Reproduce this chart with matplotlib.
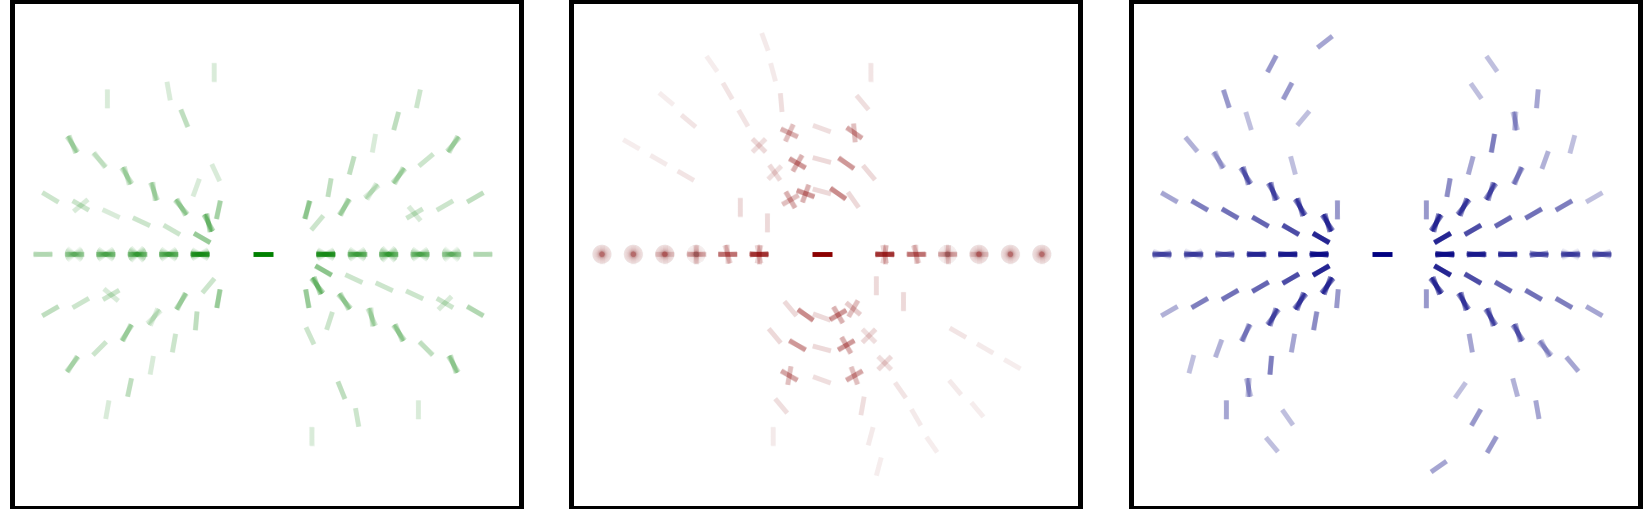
import numpy as np
import matplotlib
matplotlib.use("Agg")
import matplotlib.pyplot as plt
from matplotlib.collections import LineCollection
from matplotlib.colors import to_rgb

# =========================
# Dados lidos da figura
# cada linha: (theta da posicao [graus], raio, orientacao [graus], alpha, espalhamento [graus])
# =========================
green_nodes = [
    (0, 2, 0, .8, 4), (0, 3, 0, .5, 3), (0, 4, 0, .45, 3), (0, 5, 0, .4, 3), (0, 6, 0, .3, 3), (0, 7, 0, .3, 4),
    (180, 2, 0, .8, 4), (180, 3, 0, .5, 3), (180, 4, 0, .45, 3), (180, 5, 0, .4, 3), (180, 6, 0, .3, 3), (180, 7, 0, .3, 4),
    (15, 5, 30, .2, 2), (15, 6, 30, .2, 2), (15, 7, 30, .25, 2),
    (30, 2, 50, .2, 2), (30, 3, 60, .4, 6), (30, 4, 50, .3, 10), (30, 5, 55, .4, 8), (30, 6, 40, .2, 2), (30, 7, 55, .4, 8),
    (45, 2, 75, .45, 4), (45, 3, 80, .25, 2), (45, 4, 75, .25, 2), (45, 5, 80, .15, 2), (45, 6, 75, .25, 2), (45, 7, 78, .2, 2),
    (165, 2, 150, .4, 2), (165, 3, 150, .2, 2), (165, 4, 155, .2, 2), (165, 5, 155, .15, 2), (165, 6, 150, .2, 2), (165, 7, 149, .2, 2),
    (150, 2, 110, .6, 10), (150, 3, 125, .45, 8), (150, 4, 105, .4, 8), (150, 5, 115, .4, 10), (150, 6, 130, .25, 5), (150, 7, 118, .4, 8),
    (135, 2, 78, .35, 3), (135, 3, 70, .15, 2), (135, 7, 90, .15, 2),
    (120, 3, 115, .15, 2), (120, 5, 112, .25, 3), (120, 6, 100, .15, 2),
    (105, 6, 90, .15, 2),
    (195, 5, 30, .2, 2), (195, 6, 30, .2, 2), (195, 7, 30, .25, 2),
    (210, 2, 50, .2, 2), (210, 3, 60, .4, 5), (210, 4, 55, .3, 12), (210, 5, 60, .4, 5), (210, 6, 45, .2, 2), (210, 7, 55, .35, 5),
    (225, 2, 80, .4, 3), (225, 3, 85, .25, 2), (225, 4, 80, .2, 2), (225, 5, 80, .15, 2), (225, 6, 78, .25, 2), (225, 7, 80, .15, 2),
    (345, 2, 150, .45, 3), (345, 3, 155, .2, 2), (345, 4, 155, .2, 2), (345, 5, 155, .2, 2), (345, 6, 150, .2, 2), (345, 7, 150, .3, 3),
    (330, 2, 120, .6, 10), (330, 3, 125, .45, 8), (330, 4, 105, .4, 10), (330, 5, 120, .45, 8), (330, 6, 135, .25, 4), (330, 7, 115, .45, 8),
    (315, 2, 100, .4, 3), (315, 3, 72, .2, 2), (315, 7, 90, .15, 2),
    (300, 3, 115, .2, 2), (300, 5, 112, .25, 2), (300, 6, 100, .2, 2),
    (285, 6, 90, .15, 2),
]
green_extra = [
    (0, 2, 0, .5, 30), (0, 3, 0, .5, 35), (0, 4, 0, .6, 45), (0, 5, 0, .5, 35), (0, 6, 0, .45, 40),
    (180, 2, 0, .5, 30), (180, 3, 0, .5, 35), (180, 4, 0, .6, 45), (180, 5, 0, .5, 35), (180, 6, 0, .45, 40),
    (15, 5, 130, .15, 2), (165, 6, 40, .15, 2), (195, 5, 140, .15, 2), (345, 6, 45, .15, 2),
]

red_nodes = [
    (0, 2, 0, .8, 4), (0, 3, 0, .55, 3), (0, 4, 0, .3, 4), (0, 5, 0, .15, 3),
    (180, 2, 0, .8, 4), (180, 3, 0, .55, 3), (180, 4, 0, .3, 4), (180, 5, 0, .15, 3),
    (105, 2, 160, .4, 4), (105, 3, 150, .4, 4), (105, 4, 155, .3, 4), (105, 5, 95, .12, 2), (105, 6, 105, .08, 2), (105, 7, 110, .08, 2),
    (120, 2, 120, .3, 4), (120, 3, 125, .15, 3), (120, 4, 135, .15, 3), (120, 5, 120, .1, 2), (120, 6, 120, .1, 2), (120, 7, 125, .07, 2),
    (135, 6, 140, .1, 2), (135, 7, 140, .07, 2),
    (150, 2, 90, .15, 2), (150, 3, 90, .15, 2), (150, 5, 150, .1, 2), (150, 6, 150, .08, 2), (150, 7, 150, .07, 2),
    (90, 2, 165, .15, 2), (90, 3, 165, .15, 2), (90, 4, 160, .12, 2),
    (75, 2, 145, .45, 4), (75, 3, 145, .4, 4), (75, 4, 145, .35, 4), (75, 5, 130, .12, 2), (75, 6, 90, .1, 2),
    (60, 2, 125, .15, 2), (60, 3, 130, .15, 2),
    (255, 2, 145, .45, 4), (255, 3, 150, .4, 4), (255, 4, 150, .35, 4), (255, 5, 130, .12, 2), (255, 6, 90, .08, 2),
    (240, 2, 130, .15, 2), (240, 3, 130, .15, 2),
    (270, 2, 160, .15, 2), (270, 3, 165, .15, 2), (270, 4, 160, .12, 2),
    (285, 2, 30, .4, 4), (285, 3, 30, .4, 4), (285, 4, 30, .35, 4), (285, 5, 80, .12, 2), (285, 6, 75, .08, 2), (285, 7, 75, .07, 2),
    (300, 2, 60, .25, 3), (300, 3, 45, .15, 3), (300, 4, 45, .15, 3), (300, 5, 125, .1, 2), (300, 6, 120, .08, 2), (300, 7, 125, .07, 2),
    (315, 6, 130, .08, 2), (315, 7, 130, .07, 2),
    (330, 2, 90, .15, 2), (330, 3, 90, .15, 2), (330, 5, 150, .1, 2), (330, 6, 150, .08, 2), (330, 7, 150, .07, 2),
]
red_extra = [
    (0, 2, 90, .4, 12), (0, 3, 100, .35, 8), (0, 4, 90, .2, 6), (0, 4, 0, .35, 90),
    (0, 5, 0, .55, 90), (0, 6, 0, .55, 90), (0, 7, 0, .5, 90),
    (180, 2, 90, .4, 12), (180, 3, 100, .35, 8), (180, 4, 90, .2, 6), (180, 4, 0, .35, 90),
    (180, 5, 0, .55, 90), (180, 6, 0, .55, 90), (180, 7, 0, .5, 90),
    (105, 2, 70, .3, 4), (105, 3, 60, .3, 4), (105, 4, 65, .25, 4),
    (120, 2, 30, .25, 4), (120, 3, 45, .12, 3), (120, 4, 45, .12, 3),
    (75, 4, 95, .25, 3), (255, 4, 80, .25, 3),
    (285, 2, 120, .3, 4), (285, 3, 120, .3, 4), (285, 4, 110, .25, 4),
    (300, 2, 140, .2, 3), (300, 3, 135, .12, 3), (300, 4, 135, .12, 3),
]

navy_nodes = [
    (0, 2, 0, .95, 6), (0, 3, 0, .9, 5), (0, 4, 0, .85, 5), (0, 5, 0, .75, 8), (0, 6, 0, .65, 6), (0, 7, 0, .6, 6),
    (180, 2, 0, .95, 6), (180, 3, 0, .9, 5), (180, 4, 0, .85, 5), (180, 5, 0, .75, 8), (180, 6, 0, .65, 6), (180, 7, 0, .6, 6),
    (165, 2, 150, .85, 3), (165, 3, 150, .7, 3), (165, 4, 150, .6, 3), (165, 5, 150, .55, 3), (165, 6, 150, .5, 3), (165, 7, 150, .35, 3),
    (150, 2, 115, .85, 10), (150, 3, 115, .8, 10), (150, 4, 112, .75, 10), (150, 5, 115, .7, 10), (150, 6, 120, .45, 8), (150, 7, 130, .3, 3),
    (135, 2, 90, .4, 2), (135, 4, 105, .25, 2), (135, 6, 107, .25, 2), (135, 7, 108, .4, 3),
    (120, 5, 50, .25, 2), (120, 6, 62, .4, 3), (120, 7, 62, .4, 3),
    (105, 7, 38, .35, 2),
    (195, 2, 30, .85, 3), (195, 3, 30, .7, 3), (195, 4, 30, .6, 3), (195, 5, 30, .55, 3), (195, 6, 30, .5, 3), (195, 7, 30, .3, 2),
    (210, 2, 60, .85, 10), (210, 3, 60, .8, 10), (210, 4, 62, .75, 10), (210, 5, 65, .55, 6), (210, 6, 70, .3, 3), (210, 7, 75, .25, 2),
    (225, 2, 85, .4, 2), (225, 3, 80, .45, 3), (225, 4, 80, .35, 2), (225, 5, 85, .5, 3), (225, 6, 95, .5, 10), (225, 7, 90, .35, 2),
    (240, 6, 125, .25, 2), (240, 7, 130, .25, 2),
    (15, 2, 30, .85, 3), (15, 3, 30, .7, 3), (15, 4, 30, .6, 3), (15, 5, 30, .55, 3), (15, 6, 30, .5, 3), (15, 7, 30, .25, 2),
    (30, 2, 65, .85, 10), (30, 3, 60, .8, 10), (30, 4, 65, .75, 10), (30, 5, 65, .55, 6), (30, 6, 70, .3, 2), (30, 7, 75, .25, 2),
    (45, 2, 90, .4, 2), (45, 3, 80, .45, 3), (45, 4, 75, .35, 2), (45, 5, 80, .5, 3), (45, 6, 95, .5, 10), (45, 7, 85, .35, 2),
    (60, 6, 125, .25, 2), (60, 7, 125, .25, 2),
    (345, 2, 150, .85, 3), (345, 3, 150, .7, 3), (345, 4, 150, .6, 3), (345, 5, 150, .55, 3), (345, 6, 150, .5, 3), (345, 7, 150, .35, 2),
    (330, 2, 120, .85, 10), (330, 3, 115, .8, 10), (330, 4, 115, .75, 10), (330, 5, 115, .7, 10), (330, 6, 125, .5, 10), (330, 7, 130, .35, 3),
    (315, 2, 90, .4, 2), (315, 4, 100, .35, 2), (315, 6, 105, .3, 2), (315, 7, 100, .35, 2),
    (300, 5, 55, .25, 2), (300, 6, 60, .4, 3), (300, 7, 60, .4, 3),
    (285, 7, 35, .35, 2),
]
navy_extra = [
    (0, 6, 0, .35, 25), (0, 7, 0, .35, 20), (180, 6, 0, .35, 25), (180, 7, 0, .35, 20),
]

panel_colors = ["green", "darkred", "navy"]


def build_segments(rows, color, half_len=0.3):
    rgb = to_rgb(color)
    segs, cols = [], []
    for theta, r, phi, a, spread in rows:
        x0 = r * np.cos(np.radians(theta))
        y0 = r * np.sin(np.radians(theta))
        # disco (orientacao uniforme) precisa de muitos tracos; leques, poucos
        if spread >= 90:
            n = 1 + 2 * int(np.ceil(spread / 4))
        else:
            n = 1 + 2 * int(np.ceil(spread / 12))
        a_seg = 1 - (1 - a) ** (1 / n)
        for ang in phi + np.linspace(-spread, spread, n):
            dx = half_len * np.cos(np.radians(ang))
            dy = half_len * np.sin(np.radians(ang))
            segs.append([(x0 - dx, y0 - dy), (x0 + dx, y0 + dy)])
            cols.append((*rgb, a_seg))
    return segs, cols


def main():

    fig = plt.figure(figsize=(16.5, 5.09), dpi=100)

    lefts = [11.5, 570.5, 1130.5]
    panels = [
        (green_nodes + green_extra, panel_colors[0]),
        (red_nodes + red_extra, panel_colors[1]),
        (navy_nodes + navy_extra, panel_colors[2]),
    ]

    for left, (rows, color) in zip(lefts, panels):
        ax = fig.add_axes([left / 1650, 1 / 509, 509 / 1650, 507.5 / 509])

        segs, cols = build_segments(rows, color)
        lc = LineCollection(segs, colors=cols, linewidths=3.5, capstyle="butt")
        ax.add_collection(lc)

        # molecula central
        ax.plot([-0.32, 0.32], [0, 0], color=color, lw=3.5, solid_capstyle="butt")

        ax.set_xlim(-8.0, 8.2)
        ax.set_ylim(-8.08, 8.08)
        ax.set_xticks([])
        ax.set_yticks([])
        for sp in ax.spines.values():
            sp.set_linewidth(3.6)
            sp.set_color("black")

    plt.savefig("out.png", dpi=100)
    plt.close()


if __name__ == "__main__":
    main()
